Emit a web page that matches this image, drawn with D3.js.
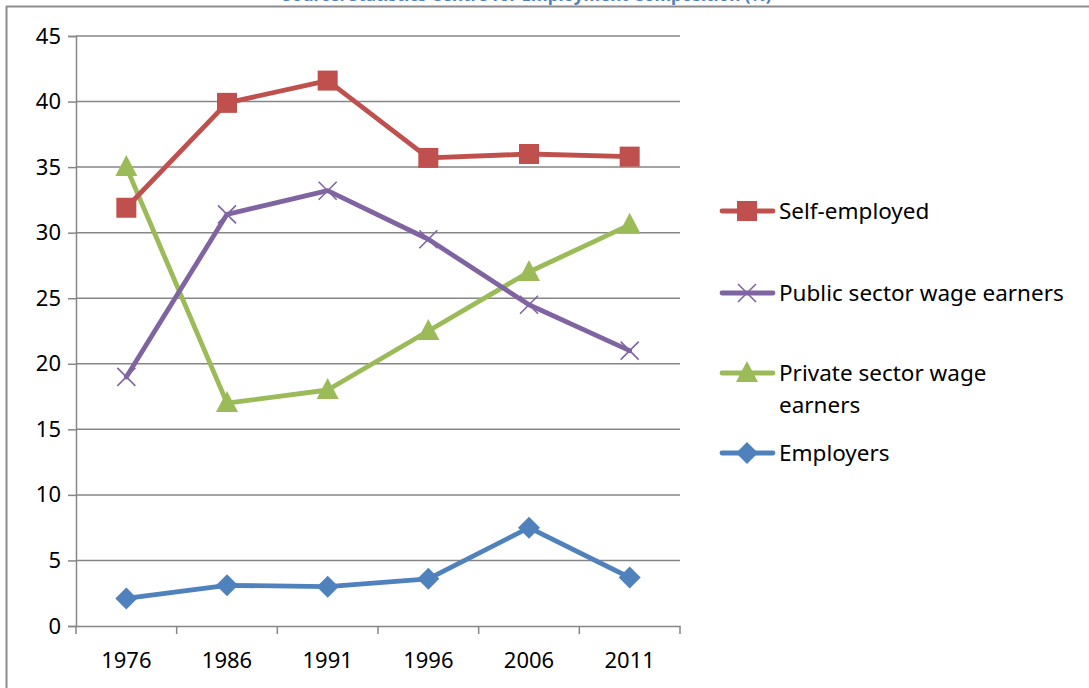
<!DOCTYPE html>
<html>
<head>
<meta charset="utf-8">
<script src="https://cdn.jsdelivr.net/npm/d3@7"></script>
<style>
  html, body { margin: 0; padding: 0; background: #ffffff; }
  svg { display: block; }
  text { font-family: "Noto Sans", "Open Sans", sans-serif; fill: #000; }
</style>
</head>
<body>
<svg id="chart" width="1089" height="688"></svg>
<script>
// Years on the category axis
const years = ["1976", "1986", "1991", "1996", "2006", "2011"];
// Share of employment by status (%)
const selfEmployed = [31.9, 39.9, 41.6, 35.7, 36.0, 35.8];
const publicSector = [19.0, 31.4, 33.2, 29.5, 24.5, 21.0];
const privateSector = [35.0, 17.0, 18.0, 22.5, 27.0, 30.6];
const employers = [2.1, 3.1, 3.0, 3.6, 7.5, 3.7];
const yTicks = [0, 5, 10, 15, 20, 25, 30, 35, 40, 45];
const seriesNames = ["Self-employed", "Public sector wage earners", "Private sector wage earners", "Employers"];
const titleText = "Source: Statistics Centre for Employment Composition (%)";

const series = [
  { name: seriesNames[0], values: selfEmployed, color: "#C0504D", marker: "square" },
  { name: seriesNames[1], values: publicSector, color: "#8064A2", marker: "cross" },
  { name: seriesNames[2], values: privateSector, color: "#9BBB59", marker: "triangle" },
  { name: seriesNames[3], values: employers, color: "#4F81BD", marker: "diamond" }
];

const svg = d3.select("#chart");
const plot = { left: 76, right: 680, top: 36, bottom: 626 };
const gridColor = "#868686";
const tickFont = "22px";
const legendFont = "22.5px";

// Title strip running off the top edge above the frame
svg.append("text")
  .attr("x", 527).attr("y", 1)
  .attr("text-anchor", "middle")
  .style("font-size", "17px").style("font-weight", "bold")
  .style("fill", "#4F81BD")
  .text(titleText);
svg.append("rect").attr("x", 0).attr("y", 6).attr("width", 1089).attr("height", 682).attr("fill", "#fff");

// Outer frame (top and left edges)
svg.append("line").attr("x1", 6).attr("x2", 1089).attr("y1", 6.5).attr("y2", 6.5)
  .attr("stroke", "#8c8c8c").attr("stroke-width", 2);
svg.append("line").attr("x1", 6.5).attr("x2", 6.5).attr("y1", 6).attr("y2", 688)
  .attr("stroke", "#8c8c8c").attr("stroke-width", 2);

const x = d3.scaleBand().domain(years).range([plot.left, plot.right]).padding(0);
const y = d3.scaleLinear().domain([0, 45]).range([plot.bottom, plot.top]);
const cx = d => x(d) + x.bandwidth() / 2;

// Horizontal gridlines
svg.append("g").selectAll("line").data(yTicks.filter(t => t > 0)).join("line")
  .attr("x1", plot.left).attr("x2", plot.right)
  .attr("y1", d => y(d)).attr("y2", d => y(d))
  .attr("stroke", gridColor).attr("stroke-width", 1.5);

// Y axis
const yAxis = svg.append("g").attr("transform", `translate(${plot.left},0)`)
  .call(d3.axisLeft(y).tickValues(yTicks).tickSize(8).tickPadding(7).tickFormat(d3.format("d")));
yAxis.select(".domain").attr("stroke", gridColor).attr("stroke-width", 1.5);
yAxis.selectAll(".tick line").attr("stroke", gridColor).attr("stroke-width", 1.5);
yAxis.selectAll(".tick text").style("font-size", tickFont).style("font-family", "'Noto Sans', sans-serif").attr("fill", "#000");

// X axis with ticks on category boundaries
const xAxis = svg.append("g").attr("transform", `translate(0,${plot.bottom})`)
  .call(d3.axisBottom(x).tickSize(0).tickPadding(26));
xAxis.select(".domain").attr("stroke", gridColor).attr("stroke-width", 1.5);
xAxis.selectAll(".tick text").style("font-size", tickFont).style("font-family", "'Noto Sans', sans-serif").attr("fill", "#000");
const bounds = years.map(d => x(d)).concat([plot.right]);
svg.append("g").selectAll("line").data(bounds).join("line")
  .attr("x1", d => d).attr("x2", d => d)
  .attr("y1", plot.bottom).attr("y2", plot.bottom + 8)
  .attr("stroke", gridColor).attr("stroke-width", 1.5);

// Marker drawing
function drawMarker(g, type, color, px, py) {
  if (type === "square") {
    g.append("rect").attr("x", px - 10).attr("y", py - 10).attr("width", 20).attr("height", 20).attr("fill", color);
  } else if (type === "triangle") {
    g.append("path").attr("d", `M${px},${py - 12} L${px + 11},${py + 9} L${px - 11},${py + 9} Z`).attr("fill", color);
  } else if (type === "diamond") {
    g.append("path").attr("d", `M${px},${py - 11} L${px + 11},${py} L${px},${py + 11} L${px - 11},${py} Z`).attr("fill", color);
  } else if (type === "cross") {
    g.append("path").attr("d", `M${px - 9},${py - 9} L${px + 9},${py + 9} M${px - 9},${py + 9} L${px + 9},${py - 9}`)
      .attr("stroke", color).attr("stroke-width", 1.6).attr("fill", "none");
  }
}

const line = d3.line().x((d, i) => cx(years[i])).y(d => y(d));

// Draw bottom series first so the legend order sits on top
series.slice().reverse().forEach(s => {
  const g = svg.append("g");
  g.append("path").datum(s.values).attr("d", line)
    .attr("fill", "none").attr("stroke", s.color).attr("stroke-width", 4.8)
    .attr("stroke-linejoin", "round").attr("stroke-linecap", "round");
  s.values.forEach((v, i) => drawMarker(g, s.marker, s.color, cx(years[i]), y(v)));
});

// Legend
const legendRows = [
  { s: series[0], y: 211, lines: ["Self-employed"] },
  { s: series[1], y: 293, lines: ["Public sector wage earners"] },
  { s: series[2], y: 373, lines: ["Private sector wage", "earners"] },
  { s: series[3], y: 453, lines: ["Employers"] }
];
legendRows.forEach(r => {
  const g = svg.append("g");
  g.append("line").attr("x1", 722).attr("x2", 773).attr("y1", r.y).attr("y2", r.y)
    .attr("stroke", r.s.color).attr("stroke-width", 4.8).attr("stroke-linecap", "round");
  drawMarker(g, r.s.marker, r.s.color, 747, r.y);
  r.lines.forEach((t, i) => {
    g.append("text").attr("x", 779).attr("y", r.y + 8 + i * 32)
      .style("font-size", legendFont).text(t);
  });
});
</script>
</body>
</html>
